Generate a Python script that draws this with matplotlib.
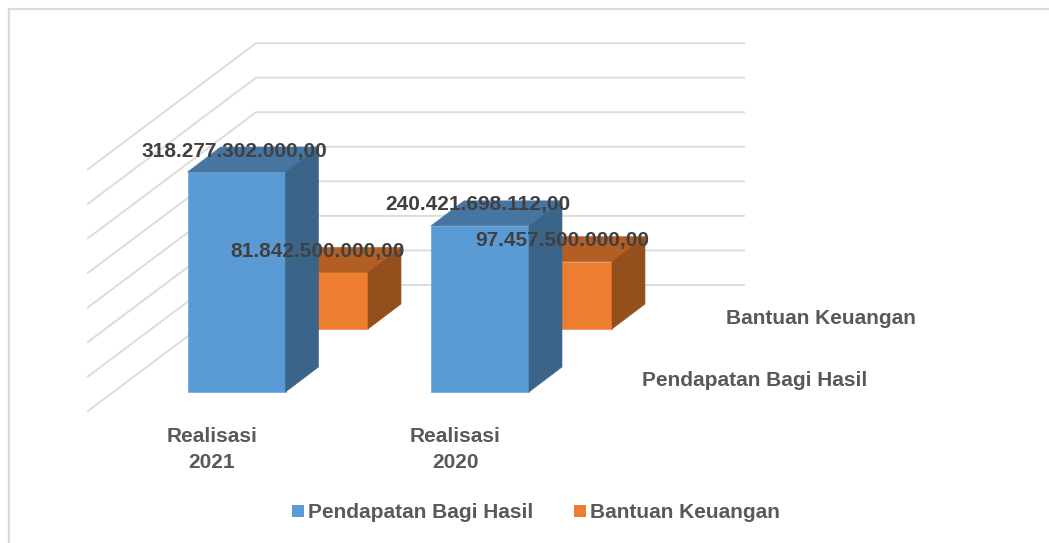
import matplotlib
matplotlib.use("Agg")
import matplotlib.pyplot as plt
from matplotlib.patches import Polygon, Patch

plt.rcParams['font.family'] = ['Liberation Sans', 'DejaVu Sans']

categories = ["Realisasi\n2021", "Realisasi\n2020"]
series_names = ["Pendapatan Bagi Hasil", "Bantuan Keuangan"]
pendapatan = [318277302000.00, 240421698112.00]
bantuan = [81842500000.00, 97457500000.00]
value_labels_pendapatan = ["318.277.302.000,00", "240.421.698.112,00"]
value_labels_bantuan = ["81.842.500.000,00", "97.457.500.000,00"]
grid_values = [0, 50e9, 100e9, 150e9, 200e9, 250e9, 300e9, 350e9]

W, H = 1049, 543
PX_PER_VALUE = 34.55 / 50e9
DX, DY = 33, -25
FS = 15.05

fig = plt.figure(figsize=(W / 100, H / 100), dpi=100)
ax = fig.add_axes([0, 0, 1, 1])
ax.set_xlim(0, W)
ax.set_ylim(H, 0)
ax.axis("off")

# chart frame
ax.plot([9, 9, W], [H, 9, 9], color="#d9d9d9", lw=1.6, solid_joinstyle="miter", zorder=1)

# 3D walls
for v in grid_values:
    d = v * PX_PER_VALUE
    ax.plot([88, 256, 744], [411 - d, 285 - d, 285 - d], color="#dcdcdc", lw=1.4, zorder=1)


def box(x0, base, value, width, front, top, side, z):
    h = value * PX_PER_VALUE
    x1 = x0 + width
    t = base - h
    ax.add_patch(Polygon([(x0, base), (x1, base), (x1, t), (x0, t)], closed=True,
                         fc=front, ec=front, lw=0.4, zorder=z))
    ax.add_patch(Polygon([(x0, t), (x1, t), (x1 + DX, t + DY), (x0 + DX, t + DY)], closed=True,
                         fc=top, ec=top, lw=0.4, zorder=z))
    ax.add_patch(Polygon([(x1, base), (x1 + DX, base + DY), (x1 + DX, t + DY), (x1, t)], closed=True,
                         fc=side, ec=side, lw=0.4, zorder=z))
    return t


blue = ("#5b9bd5", "#4675a2", "#3a6488")
orange = ("#ed7d31", "#b25e25", "#944f1c")
blue_x = [187.5, 431]
orange_x = [270, 514]
BLUE_BASE, ORANGE_BASE = 392, 329
BAR_W = 98

for x, val in zip(orange_x, bantuan):
    box(x, ORANGE_BASE, val, BAR_W, *orange, 2)
for x, val in zip(blue_x, pendapatan):
    box(x, BLUE_BASE, val, BAR_W, *blue, 3)

# data labels
for x, val, lab in zip(blue_x, pendapatan, value_labels_pendapatan):
    ax.text(x + 46.5, BLUE_BASE - val * PX_PER_VALUE - 21, lab, ha="center", va="center",
            fontsize=FS, fontweight="bold", color="#404040", zorder=5)
for x, val, lab in zip(orange_x, bantuan, value_labels_bantuan):
    ax.text(x + 48, ORANGE_BASE - val * PX_PER_VALUE - 21, lab, ha="center", va="center",
            fontsize=FS, fontweight="bold", color="#404040", zorder=5)

# category labels
for x, c in zip(blue_x, categories):
    ax.text(x + 24.5, 449.5, c, ha="center", va="center", fontsize=FS, fontweight="bold",
            color="#595959", linespacing=1.45)

# depth axis labels
ax.text(821, 319, series_names[1], ha="center", va="center", fontsize=FS,
        fontweight="bold", color="#595959")
ax.text(755, 381, series_names[0], ha="center", va="center", fontsize=FS,
        fontweight="bold", color="#595959")

# legend
handles = [Patch(fc=blue[0], ec="none", label=series_names[0]),
           Patch(fc=orange[0], ec="none", label=series_names[1])]
ax.legend(handles=handles, ncols=2, loc="center", bbox_to_anchor=(536, 513),
          bbox_transform=ax.transData, frameon=False,
          prop={"size": FS, "weight": "bold"}, labelcolor="#595959",
          handlelength=0.55, handleheight=0.55, handletextpad=0.2, columnspacing=1.95)

fig.savefig("out.png", dpi=100)
